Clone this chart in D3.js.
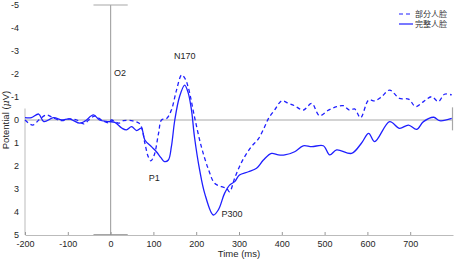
<!DOCTYPE html>
<html>
<head>
<meta charset="utf-8">
<script src="https://cdn.jsdelivr.net/npm/d3@7"></script>
<style>
	body { margin: 0; background: #fff; }
	text { font-family: "Liberation Sans", Arial, sans-serif; fill: #262626; }
	.tick-label { font-size: 9px; }
	.legend-text { font-family: "Noto Sans CJK SC", sans-serif; font-size: 8px; fill: #333; }
</style>
</head>
<body>
<div id="chart"></div>
<script>
// partial face (dashed)
var partTime = [-200, -182, -165, -149, -135, -114, -96, -79, -63, -51, -37, -21, -5, 2, 19, 30, 49, 65, 72, 80, 88, 94, 102, 112, 119, 131, 142, 154, 166, 174, 182, 196, 212, 229, 243, 259, 271, 278, 290, 301, 313, 329, 346, 360, 369, 383, 400, 416, 430, 450, 470, 488, 509, 528, 544, 558, 570, 584, 603, 617, 633, 652, 675, 696, 713, 731, 750, 766, 780, 797];
var partValue = [0.0, 0.22, -0.05, -0.22, -0.1, 0.03, -0.05, 0.0, 0.17, 0.0, -0.17, 0.0, 0.12, 0.0, 0.14, 0.03, 0.03, 0.12, 0.29, 1.0, 1.6, 1.78, 1.52, 0.58, 0.0, -0.07, -0.43, -1.3, -1.96, -1.8, -1.38, -0.14, 1.16, 2.17, 2.75, 2.9, 2.97, 3.12, 2.52, 2.03, 1.6, 1.16, 0.8, 0.29, -0.07, -0.43, -0.83, -0.72, -0.62, -0.43, -0.72, -0.19, -0.43, -0.58, -0.62, -0.43, -0.48, -0.1, -0.87, -0.83, -1.01, -1.3, -0.94, -0.91, -0.58, -0.8, -1.01, -0.8, -1.12, -1.09];

// full face (solid)
var fullTime = [-200, -185, -168, -156, -133, -114, -96, -72, -60, -40, -26, -5, 10, 26, 37, 49, 61, 72, 80, 96, 107, 118, 126, 135, 142, 150, 161, 173, 181, 189, 196, 208, 220, 240, 252, 266, 278, 290, 301, 322, 341, 357, 376, 392, 407, 430, 450, 470, 497, 512, 528, 563, 586, 603, 617, 652, 675, 696, 715, 731, 755, 769, 797];
var fullValue = [-0.1, -0.1, -0.26, 0.07, -0.1, 0.0, -0.05, 0.14, 0.05, -0.22, 0.0, 0.07, 0.1, 0.35, 0.43, 0.29, 0.46, 0.36, 0.87, 1.17, 1.38, 1.65, 1.81, 1.74, 1.16, 0.0, -1.01, -1.52, -1.2, -0.43, 0.74, 2.17, 3.2, 4.13, 3.9, 3.2, 2.83, 2.68, 2.39, 2.25, 2.1, 1.74, 1.45, 1.52, 1.52, 1.38, 1.12, 1.16, 1.12, 1.52, 1.3, 1.45, 1.01, 0.58, 0.94, 0.07, 0.36, 0.22, 0.41, 0.07, -0.12, 0.03, -0.07];

var xTicks = [-200, -100, 0, 100, 200, 300, 400, 500, 600, 700];
var yTicks = [-5, -4, -3, -2, -1, 0, 1, 2, 3, 4, 5];
var seriesNames = ['部分人脸', '完整人脸'];
var peakLabels = [
	{ name: 'O2', t: 8, v: -1.9 },
	{ name: 'N170', t: 148, v: -2.65 },
	{ name: 'P1', t: 89, v: 2.65 },
	{ name: 'P300', t: 259, v: 4.2 }
];

var width = 455;
var height = 261;
var margin = { top: 5, right: 2, bottom: 26, left: 25 };
var blue = '#1f1fff';
var grey = '#a8a8a8';

var svg = d3.select('#chart').append('svg')
	.attr('width', width)
	.attr('height', height);

var x = d3.scaleLinear()
	.domain([-200, 800])
	.range([margin.left, width - margin.right]);

var y = d3.scaleLinear()
	.domain([-5, 5])
	.range([margin.top, height - margin.bottom]);

// plain hyphen for negatives, like the original
var plain = function(d) { return String(d); };

// - axes -

// zero line
svg.append('line')
	.attr('x1', x(-200)).attr('x2', x(800))
	.attr('y1', y(0)).attr('y2', y(0))
	.attr('stroke', grey).attr('stroke-width', 1);

// stimulus onset bar with caps
svg.append('line')
	.attr('x1', x(0)).attr('x2', x(0))
	.attr('y1', y(-5)).attr('y2', y(5))
	.attr('stroke', grey).attr('stroke-width', 1.2);
svg.append('line')
	.attr('x1', x(-40)).attr('x2', x(40))
	.attr('y1', y(-5)).attr('y2', y(-5))
	.attr('stroke', grey).attr('stroke-width', 1.2);
svg.append('line')
	.attr('x1', x(-40)).attr('x2', x(40))
	.attr('y1', y(5)).attr('y2', y(5))
	.attr('stroke', '#888').attr('stroke-width', 1.5);

// left and right edge lines
svg.append('line')
	.attr('x1', x(-200)).attr('x2', x(-200))
	.attr('y1', y(-0.5)).attr('y2', y(5))
	.attr('stroke', '#bbb').attr('stroke-width', 1);
svg.append('line')
	.attr('x1', x(800) - 0.5).attr('x2', x(800) - 0.5)
	.attr('y1', y(-0.55)).attr('y2', y(0.45))
	.attr('stroke', grey).attr('stroke-width', 1.2);

var xAxis = d3.axisBottom(x)
	.tickValues(xTicks)
	.tickFormat(plain)
	.tickSizeInner(-3)
	.tickSizeOuter(0)
	.tickPadding(6);

var gx = svg.append('g')
	.attr('transform', 'translate(0,' + y(5) + ')')
	.call(xAxis);
gx.select('.domain').attr('stroke', '#bbb');
gx.selectAll('.tick line').attr('stroke', '#999');
gx.selectAll('.tick text')
	.attr('class', 'tick-label')
	.attr('fill', '#262626')
	.style('font-family', '"Liberation Sans", Arial, sans-serif');

var yAxis = d3.axisLeft(y)
	.tickValues(yTicks)
	.tickFormat(plain)
	.tickSize(0)
	.tickPadding(6);

var gy = svg.append('g')
	.attr('transform', 'translate(' + x(-200) + ',0)')
	.call(yAxis);
gy.select('.domain').remove();
gy.selectAll('.tick text')
	.attr('class', 'tick-label')
	.attr('fill', '#262626')
	.style('font-family', '"Liberation Sans", Arial, sans-serif');

// axis titles
svg.append('text')
	.attr('x', (x(-200) + x(800)) / 2)
	.attr('y', 257)
	.attr('text-anchor', 'middle')
	.style('font-size', '9.5px')
	.text('Time (ms)');

var yTitle = svg.append('text')
	.attr('transform', 'translate(9,' + y(0) + ') rotate(-90)')
	.attr('text-anchor', 'middle')
	.style('font-size', '9.5px');
yTitle.append('tspan').text('Potential (');
yTitle.append('tspan').style('font-style', 'italic').style('font-family', '"DejaVu Serif", serif').text('μ');
yTitle.append('tspan').text('V)');

// - curves -

var line = d3.line()
	.x(function(d) { return x(d[0]); })
	.y(function(d) { return y(d[1]); })
	.curve(d3.curveCatmullRom.alpha(0.5));

svg.append('path')
	.datum(d3.zip(partTime, partValue))
	.attr('d', line)
	.attr('fill', 'none')
	.attr('stroke', blue)
	.attr('stroke-width', 1.3)
	.attr('stroke-dasharray', '4,3');

svg.append('path')
	.datum(d3.zip(fullTime, fullValue))
	.attr('d', line)
	.attr('fill', 'none')
	.attr('stroke', blue)
	.attr('stroke-width', 1.3);

// peak labels
svg.selectAll('.peak')
	.data(peakLabels)
	.enter()
	.append('text')
		.attr('class', 'peak')
		.attr('x', function(d) { return x(d.t); })
		.attr('y', function(d) { return y(d.v); })
		.style('font-size', '9px')
		.text(function(d) { return d.name; });

// - legend -
var gLegend = svg.append('g')
	.attr('transform', 'translate(399,14)');

var gLegendElem = gLegend.selectAll('.legend')
	.data(seriesNames)
	.enter().append('g')
		.attr('transform', function(d, i) { return 'translate(0,' + (i * 10) + ')'; });

gLegendElem.append('line')
	.attr('x1', 0).attr('x2', 14)
	.attr('y1', 0).attr('y2', 0)
	.attr('stroke', blue)
	.attr('stroke-width', 1.2)
	.attr('stroke-dasharray', function(d, i) { return i === 0 ? '4,3' : null; });

gLegendElem.append('text')
	.attr('class', 'legend-text')
	.attr('x', 16)
	.attr('dy', '0.35em')
	.text(function(d) { return d; });
</script>
</body>
</html>
